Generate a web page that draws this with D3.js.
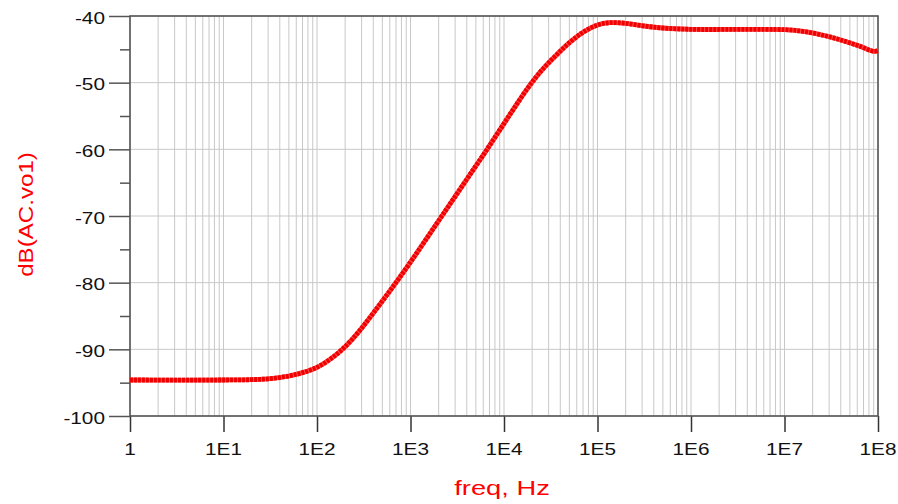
<!DOCTYPE html>
<html>
<head>
<meta charset="utf-8">
<script src="https://cdn.jsdelivr.net/npm/d3@7"></script>
<style>
  html, body { margin: 0; padding: 0; background: #fff; }
  svg { display: block; }
  text { font-family: "Liberation Sans", Arial, sans-serif; }
</style>
</head>
<body>
<svg id="chart" width="898" height="504"></svg>
<script>
// ---- data ----
const freqHz = [1, 10, 20, 31.6, 50, 70, 100, 141, 200, 282, 398, 562, 794, 1122, 1585, 2239, 3162, 4467, 6310, 8913,
                12589, 17783, 25119, 35481, 50119, 70795, 1e5, 1.35e5, 2e5, 3.16e5, 5e5, 1e6, 1e7, 1.58e7, 2.8e7, 4e7, 6.3e7, 9e7, 1e8];
const dBValues = [-94.6, -94.6, -94.55, -94.4, -94.0, -93.5, -92.7, -91.4, -89.6, -87.3, -84.6, -81.8, -78.9, -75.9,
                  -72.8, -69.7, -66.6, -63.5, -60.4, -57.2, -54.0, -50.9, -48.2, -46.0, -44.0, -42.4, -41.35, -41.0,
                  -41.1, -41.5, -41.8, -42.0, -42.05, -42.3, -43.0, -43.6, -44.5, -45.3, -45.2];
const xTickValues = [1, 1e1, 1e2, 1e3, 1e4, 1e5, 1e6, 1e7, 1e8];
const xTickLabels = ["1", "1E1", "1E2", "1E3", "1E4", "1E5", "1E6", "1E7", "1E8"];
const yTickValues = [-100, -90, -80, -70, -60, -50, -40];
const yMinorTicks = [-95, -85, -75, -65, -55, -45];
const xTitle = "freq, Hz";
const yTitle = "dB(AC.vo1)";

// ---- layout ----
const svg = d3.select("#chart");
const L = 130, R = 878, T = 16, B = 416;
const x = d3.scaleLog().domain([1, 1e8]).range([L, R]);
const y = d3.scaleLinear().domain([-100, -40]).range([B, T]);
const stretch = 1.3;

// minor log grid
const gridX = [];
for (let d = 0; d < 8; d++) for (let m = 1; m <= 9; m++) gridX.push(m * Math.pow(10, d));
gridX.push(1e8);

const grid = svg.append("g");
grid.selectAll("line.vx").data(gridX).join("line")
  .attr("x1", d => x(d)).attr("x2", d => x(d)).attr("y1", T).attr("y2", B)
  .attr("stroke", "#c8c8c8").attr("stroke-width", 1);
grid.selectAll("line.hy").data(yTickValues).join("line")
  .attr("x1", L).attr("x2", R).attr("y1", d => y(d)).attr("y2", d => y(d))
  .attr("stroke", "#c8c8c8").attr("stroke-width", 1);

// axes via d3
const xAxis = d3.axisBottom(x).tickValues(xTickValues).tickSize(16).tickFormat((d, i) => "");
const gx = svg.append("g").attr("transform", `translate(0,${B})`).call(xAxis);
gx.select(".domain").remove();
gx.selectAll(".tick line").attr("stroke", "#333").attr("stroke-width", 1.5);

const yAxis = d3.axisLeft(y).tickValues(yTickValues).tickSize(21).tickFormat("");
const gy = svg.append("g").attr("transform", `translate(${L},0)`).call(yAxis);
gy.select(".domain").remove();
gy.selectAll(".tick line").attr("stroke", "#555").attr("stroke-width", 1.5);

const yAxisMinor = d3.axisLeft(y).tickValues(yMinorTicks).tickSize(10).tickFormat("");
const gym = svg.append("g").attr("transform", `translate(${L},0)`).call(yAxisMinor);
gym.select(".domain").remove();
gym.selectAll(".tick line").attr("stroke", "#555").attr("stroke-width", 1.5);

// frame
svg.append("rect").attr("x", L).attr("y", T).attr("width", R - L).attr("height", B - T)
  .attr("fill", "none").attr("stroke", "#555").attr("stroke-width", 1.6);

// tick labels (stretched horizontally like the reference)
svg.append("g").selectAll("g").data(xTickValues).join("g")
  .attr("transform", d => `translate(${x(d)},455) scale(${stretch},1)`)
  .append("text").attr("text-anchor", "middle").attr("font-size", 16).attr("fill", "#111")
  .text((d, i) => xTickLabels[i]);

svg.append("g").selectAll("g").data(yTickValues).join("g")
  .attr("transform", d => `translate(105,${y(d) + 7.5}) scale(${stretch},1)`)
  .append("text").attr("text-anchor", "end").attr("font-size", 16).attr("fill", "#111")
  .text(d => d);

// titles
svg.append("g").attr("transform", `translate(502,495) scale(1.3,1)`)
  .append("text").attr("text-anchor", "middle").attr("font-size", 21).attr("fill", "#ff0000")
  .text(xTitle);
svg.append("g").attr("transform", `translate(33,214.5) rotate(-90) scale(1.15,1)`)
  .append("text").attr("text-anchor", "middle").attr("font-size", 21).attr("fill", "#ff0000")
  .text(yTitle);

// curve
const pts = freqHz.map((f, i) => [f, dBValues[i]]);
const line = d3.line().x(d => x(d[0])).y(d => y(d[1])).curve(d3.curveCatmullRom.alpha(0.5));
svg.append("path").datum(pts).attr("d", line)
  .attr("fill", "none").attr("stroke", "#ff5050").attr("stroke-width", 4.8);
svg.append("path").datum(pts).attr("d", line)
  .attr("fill", "none").attr("stroke", "#f00000").attr("stroke-width", 4.8)
  .attr("stroke-dasharray", "3,1");
</script>
</body>
</html>
